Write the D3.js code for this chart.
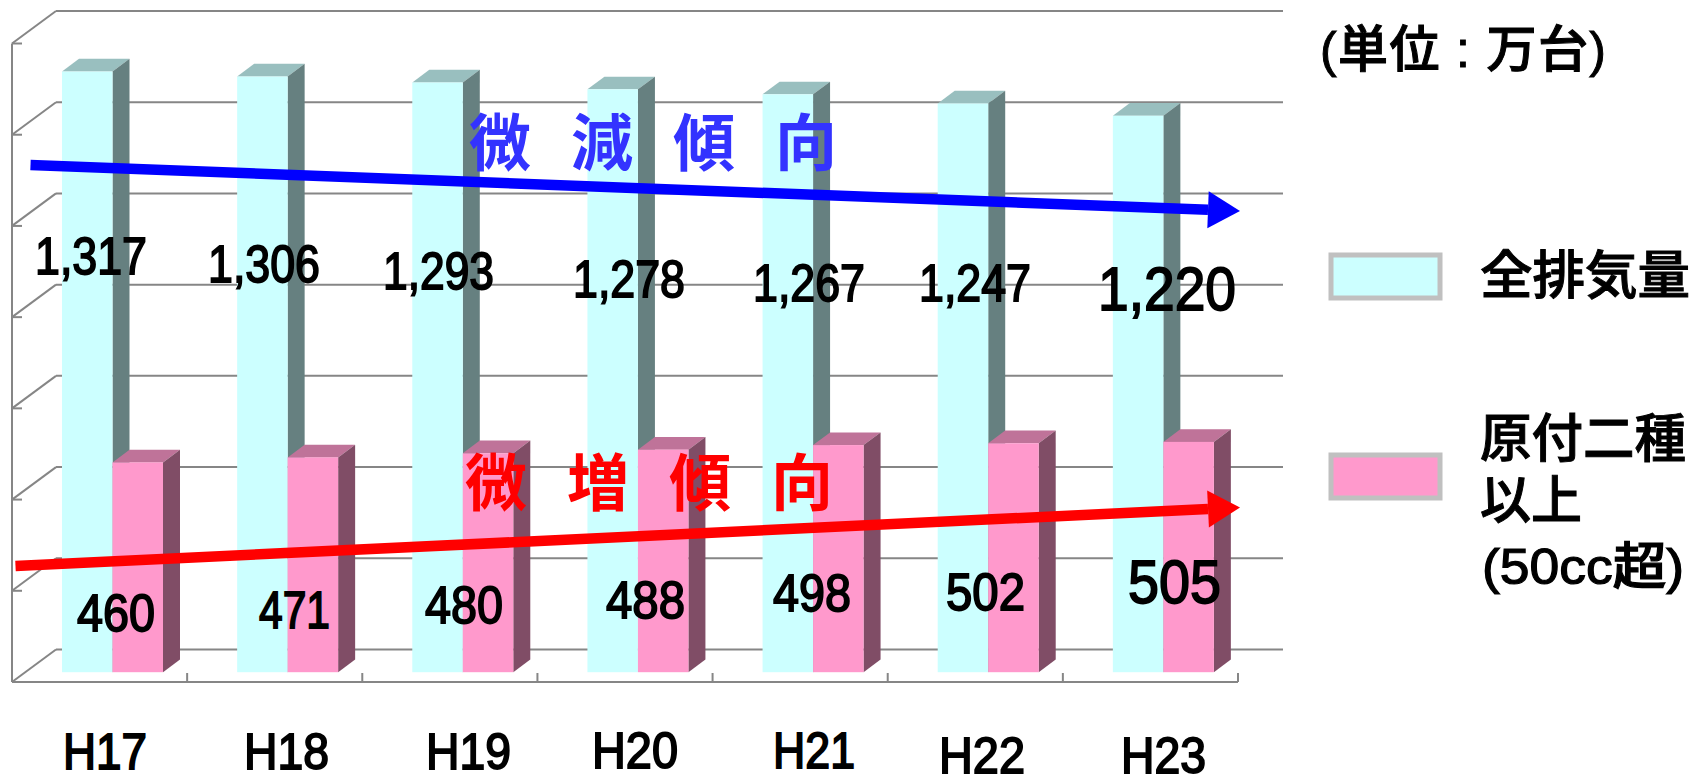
<!DOCTYPE html>
<html>
<head>
  <meta charset="utf-8">
  <script src="https://d3js.org/d3.v7.min.js"></script>
  <style>
    body { margin: 0; background: #fff; }
    svg { display: block; }
    text { font-family: "Liberation Sans", "Noto Sans CJK JP", sans-serif; fill: #000; }
    .gridline { stroke: #868686; stroke-width: 2; fill: none; }
  </style>
</head>
<body>
<div id="chart"></div>
<script>
  // data
  var years = ["H17", "H18", "H19", "H20", "H21", "H22", "H23"];
  var allBikes = [1317, 1306, 1293, 1278, 1267, 1247, 1220];
  var over50cc = [460, 471, 480, 488, 498, 502, 505];
  var yTicks = [0, 200, 400, 600, 800, 1000, 1200, 1400];

  var width = 1704, height = 774;

  var svg = d3.select("#chart").append("svg")
      .attr("width", width)
      .attr("height", height);

  var x = d3.scaleBand().domain(years).range([12, 1238]);
  var y = d3.scaleLinear().domain([0, 1400]).range([682, 43.5]);

  // 3d look: wall depth and bar depth
  var wall = { dx: 44, dy: 32.5 };
  var bar = { dx: 17, dy: 12.7, lift: 9.8, inset: 50, w: 50.5 };

  var grid = svg.append("g");

  // back wall lines and the diagonals that join them to the value axis
  yTicks.forEach(function(t) {
    grid.append("line").attr("class", "gridline")
      .attr("x1", x.range()[0] + wall.dx).attr("x2", 1283)
      .attr("y1", y(t) - wall.dy).attr("y2", y(t) - wall.dy);
    grid.append("line").attr("class", "gridline")
      .attr("x1", x.range()[0]).attr("x2", x.range()[0] + wall.dx)
      .attr("y1", y(t)).attr("y2", y(t) - wall.dy);
    grid.append("line").attr("class", "gridline")
      .attr("x1", x.range()[0]).attr("x2", x.range()[0] + 10)
      .attr("y1", y(t)).attr("y2", y(t));
  });
  grid.append("line").attr("class", "gridline")
    .attr("x1", x.range()[0]).attr("x2", x.range()[0])
    .attr("y1", y(1400)).attr("y2", y(0));
  grid.append("line").attr("class", "gridline")
    .attr("x1", x.range()[0]).attr("x2", x.range()[1])
    .attr("y1", y(0)).attr("y2", y(0));
  years.forEach(function(d) {
    grid.append("line").attr("class", "gridline")
      .attr("x1", x(d) + x.step()).attr("x2", x(d) + x.step())
      .attr("y1", y(0)).attr("y2", y(0) - 9);
  });

  function drawBars(values, shift, front, top, side) {
    var g = svg.append("g").selectAll("g").data(years).enter().append("g");
    g.each(function(d, i) {
      var x0 = x(d) + bar.inset + shift,
          x1 = x0 + bar.w,
          yt = y(values[i]) - bar.lift,
          yb = y(0) - bar.lift;
      var s = d3.select(this);
      s.append("path").attr("fill", top)
        .attr("d", "M" + x0 + "," + yt + "L" + (x0 + bar.dx) + "," + (yt - bar.dy) +
                   "L" + (x1 + bar.dx) + "," + (yt - bar.dy) + "L" + x1 + "," + yt + "Z");
      s.append("path").attr("fill", side)
        .attr("d", "M" + x1 + "," + yt + "L" + (x1 + bar.dx) + "," + (yt - bar.dy) +
                   "L" + (x1 + bar.dx) + "," + (yb - bar.dy) + "L" + x1 + "," + yb + "Z");
      s.append("rect").attr("fill", front)
        .attr("x", x0).attr("y", yt).attr("width", bar.w).attr("height", yb - yt);
    });
  }
  drawBars(allBikes, 0, "#CCFFFF", "#99BFBF", "#668080");
  drawBars(over50cc, bar.w, "#FF99CC", "#BF7399", "#804D66");

  // trend arrows
  function arrow(x1, y1, x2, y2, color) {
    var headLen = 32, headHalf = 18.5;
    var a = Math.atan2(y2 - y1, x2 - x1),
        bx = x2 - headLen * Math.cos(a),
        by = y2 - headLen * Math.sin(a),
        nx = -Math.sin(a), ny = Math.cos(a);
    svg.append("line")
      .attr("x1", x1).attr("y1", y1).attr("x2", bx).attr("y2", by)
      .attr("stroke", color).attr("stroke-width", 10.5);
    svg.append("path").attr("fill", color)
      .attr("d", "M" + x2 + "," + y2 +
                 "L" + (bx + nx * headHalf) + "," + (by + ny * headHalf) +
                 "L" + (bx - nx * headHalf) + "," + (by - ny * headHalf) + "Z");
  }
  arrow(30.5, 165, 1240, 211, "#0000FF");
  arrow(15.5, 566, 1240, 507.5, "#FF0000");

  // text helper, left edge + width so the narrow gothic digits come out right
  // regular weight + a thin outline sits between the regular and bold faces
  function label(str, x0, w, base, size, outline, adjust) {
    return svg.append("text")
      .attr("x", x0).attr("y", base)
      .attr("font-size", size)
      .attr("font-weight", 500)
      .attr("stroke", "#000")
      .attr("stroke-width", outline || 1)
      .attr("textLength", w)
      .attr("lengthAdjust", adjust || "spacingAndGlyphs")
      .text(str);
  }

  // data labels were placed by hand in the original, so these follow it
  var fmt = d3.format(",");
  var allPos = [[35, 112, 274], [208, 112, 281.7], [383, 111, 288.7], [573, 112, 297], [753, 112, 301], [919, 112, 301], [1098, 138, 310]];
  var overPos = [[77, 78, 630.7], [259, 71, 628], [425, 78, 622.7], [606, 79, 618], [773, 78, 611], [946, 79, 610], [1128, 93, 603]];
  var xPos = [[63, 84, 769], [244, 85, 769], [426, 85, 769], [592, 86, 768], [773, 82, 768], [939, 86, 773], [1121, 85, 773]];

  allBikes.forEach(function(v, i) {
    label(fmt(v), allPos[i][0], allPos[i][1], allPos[i][2], i == 6 ? 62 : 52, 1.8);
  });
  over50cc.forEach(function(v, i) {
    label(fmt(v), overPos[i][0], overPos[i][1], overPos[i][2], i == 6 ? 62 : 52, 1.8);
  });
  years.forEach(function(d, i) {
    label(d, xPos[i][0], xPos[i][1], xPos[i][2], 50, 1.8);
  });

  // trend captions
  svg.append("text").attr("x", 469).attr("y", 166).attr("font-size", 62)
    .attr("font-weight", 700).attr("letter-spacing", 40)
    .style("fill", "#3333FF").text("微減傾向");
  svg.append("text").attr("x", 465).attr("y", 506).attr("font-size", 62)
    .attr("font-weight", 700).attr("letter-spacing", 40)
    .style("fill", "#FF0000").text("微増傾向");

  // unit and legend
  label("(単位 : 万台)", 1320, 286, 67, 50, 1, "spacing");

  svg.append("rect").attr("x", 1331).attr("y", 255).attr("width", 109).attr("height", 43)
    .attr("fill", "#CCFFFF").attr("stroke", "#C0C0C0").attr("stroke-width", 5);
  svg.append("rect").attr("x", 1331).attr("y", 455).attr("width", 109).attr("height", 43)
    .attr("fill", "#FF99CC").attr("stroke", "#C0C0C0").attr("stroke-width", 5);

  label("全排気量", 1480, 210, 294, 52);
  label("原付二種", 1480, 206, 457, 52);
  label("以上", 1480, 102, 519, 52);
  label("(50cc超)", 1482, 202, 584, 50, 1.2);
</script>
</body>
</html>
